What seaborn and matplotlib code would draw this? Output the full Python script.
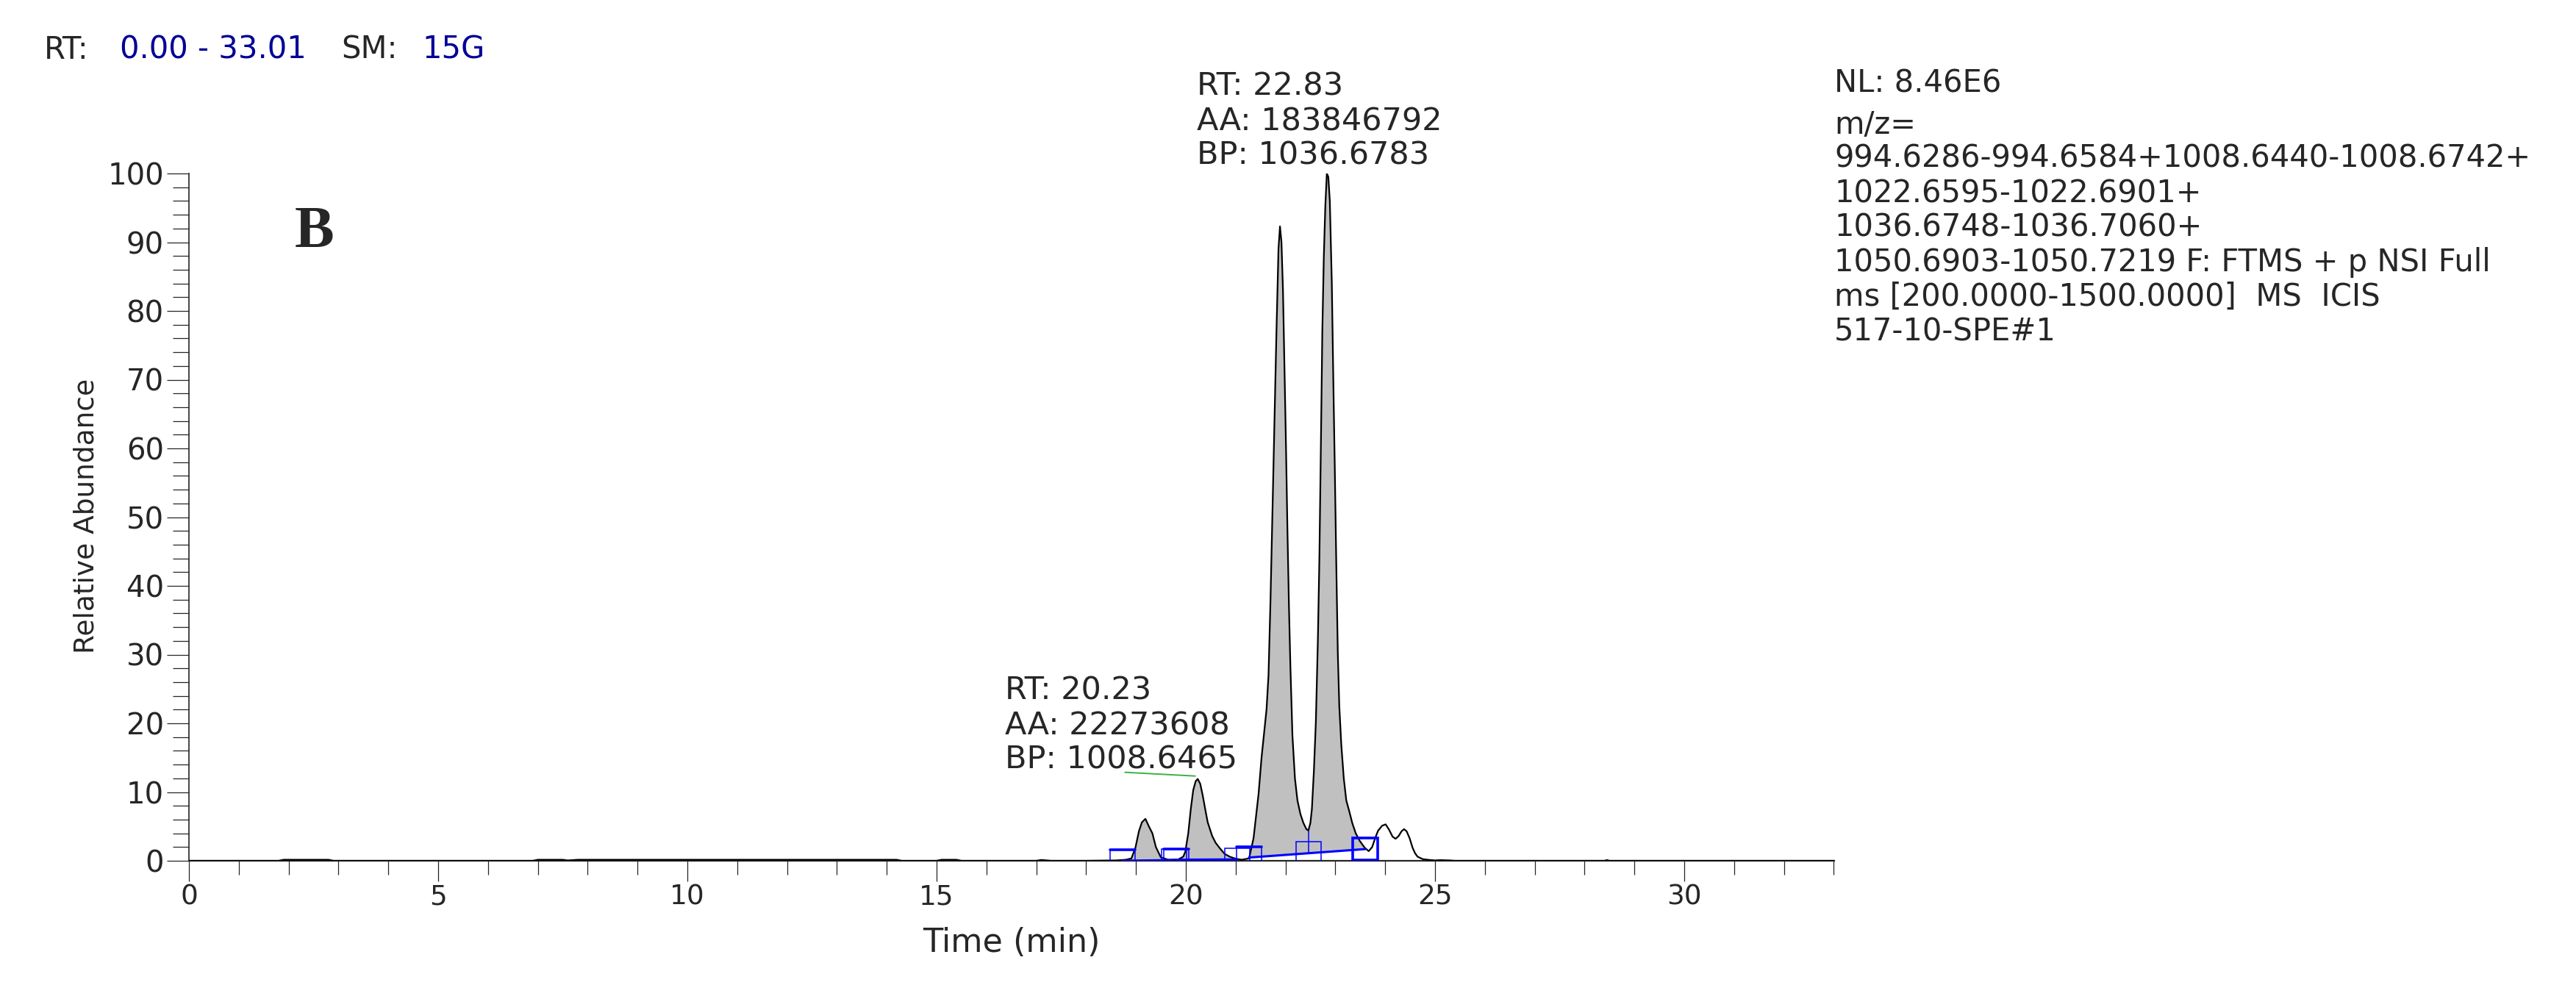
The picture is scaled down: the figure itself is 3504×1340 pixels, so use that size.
import numpy as np
import matplotlib
matplotlib.use("Agg")
import matplotlib.pyplot as plt
from matplotlib.patches import Rectangle
import seaborn as sns

# chromatogram trace: time (min) and relative abundance (%)
tempo = [0.00, 1.80, 1.90, 2.80, 2.90, 6.90, 7.00, 7.50, 7.60, 7.80, 14.20, 14.30,
         15.00, 15.10, 15.40, 15.50, 17.00, 17.10, 17.30, 18.00, 18.60, 18.80,
         18.91, 18.99, 19.06, 19.12, 19.19, 19.26, 19.33, 19.40, 19.50, 19.65,
         19.85, 19.95, 19.99, 20.05, 20.10, 20.15, 20.20, 20.24, 20.29, 20.34,
         20.39, 20.44, 20.53, 20.60, 20.68, 20.78, 20.88, 21.00, 21.12, 21.27,
         21.36, 21.46, 21.52, 21.57, 21.62, 21.66, 21.70, 21.74, 21.78, 21.82,
         21.86, 21.89, 21.92, 21.95, 21.98, 22.01, 22.04, 22.07, 22.10, 22.14,
         22.19, 22.24, 22.30, 22.36, 22.42, 22.46, 22.50, 22.53, 22.57, 22.61,
         22.65, 22.68, 22.71, 22.74, 22.77, 22.80, 22.83, 22.86, 22.89, 22.93,
         22.96, 22.99, 23.02, 23.05, 23.08, 23.12, 23.17, 23.22, 23.28, 23.34,
         23.41, 23.49, 23.59, 23.67, 23.74, 23.80, 23.86, 23.94, 24.01, 24.08,
         24.15, 24.21, 24.27, 24.33, 24.38, 24.43, 24.49, 24.55, 24.60, 24.65,
         24.75, 24.85, 25.00, 25.10, 25.30, 25.40, 28.40, 28.45, 28.50, 33.01]
abundancia = [0.0, 0.0, 0.15, 0.15, 0.0, 0.0, 0.15, 0.15, 0.05, 0.15, 0.15, 0.0,
              0.0, 0.15, 0.15, 0.0, 0.0, 0.12, 0.0, 0.0, 0.05, 0.15,
              0.35, 1.9, 4.3, 5.6, 6.1, 5.0, 4.0, 2.0, 0.5, 0.15,
              0.2, 0.6, 1.3, 4.0, 7.5, 10.3, 11.6, 11.9, 11.2, 9.5,
              7.5, 5.6, 3.6, 2.6, 1.85, 1.0, 0.6, 0.3, 0.15, 0.35,
              3.3, 9.7, 15.0, 18.5, 22.0, 27.0, 38.0, 51.0, 64.0, 77.2,
              89.0, 92.3, 90.0, 83.0, 72.0, 60.5, 48.0, 37.0, 28.0, 18.2,
              12.0, 8.8, 6.8, 5.5, 4.6, 4.4, 5.5, 7.5, 13.0, 20.2,
              32.0, 43.7, 60.0, 77.2, 88.0, 95.3, 100.0, 99.5, 96.0, 84.0,
              70.0, 57.0, 43.0, 30.3, 22.5, 16.9, 12.0, 8.8, 7.2, 5.5,
              4.0, 2.9, 1.9, 1.4, 2.0, 3.3, 4.4, 5.1, 5.3, 4.5,
              3.5, 3.2, 3.6, 4.3, 4.6, 4.3, 3.3, 1.9, 1.1, 0.6,
              0.25, 0.15, 0.05, 0.1, 0.05, 0.0, 0.0, 0.1, 0.0, 0.0]

# integrated peaks: baseline start / end points (min, %)
inicio_x = [18.73, 19.81, 21.27]
inicio_y = [0.00, 0.15, 0.47]
fim_x = [19.76, 21.03, 23.60]
fim_y = [0.10, 0.20, 1.70]
# drop line that splits the two big peaks
divisao_x = 22.47
divisao_y = [1.17, 4.4]

# labelled peaks
rotulo_alto = ["RT: 22.83", "AA: 183846792", "BP: 1036.6783"]
rotulo_baixo = ["RT: 20.23", "AA: 22273608", "BP: 1008.6465"]
# green leader line of the lower label
guia_x = [18.78, 20.19]
guia_y = [12.87, 12.33]

info_direita = ["NL: 8.46E6", "m/z=",
                "994.6286-994.6584+1008.6440-1008.6742+",
                "1022.6595-1022.6901+",
                "1036.6748-1036.7060+",
                "1050.6903-1050.7219 F: FTMS + p NSI Full",
                "ms [200.0000-1500.0000]  MS  ICIS",
                "517-10-SPE#1"]

W, H = 3504, 1340
sns.set_style("ticks")
plt.rcParams['font.family'] = ['DejaVu Sans']

fig = plt.figure(figsize=(W / 100, H / 100), dpi=100)
ax = fig.add_axes([257 / W, 1 - 1171 / H, (2495 - 257) / W, (1171 - 236) / H])

# gray area of each integrated peak, down to its own baseline
t = np.array(tempo)
a = np.array(abundancia)
for x0, y0, x1, y1 in zip(inicio_x, inicio_y, fim_x, fim_y):
    m = (t >= x0) & (t <= x1)
    base = np.interp(t[m], [x0, x1], [y0, y1])
    ax.fill_between(t[m], base, a[m], color="#c0c0c0", lw=0, zorder=1)

sns.lineplot(x=tempo, y=abundancia, ax=ax, color="black", linewidth=1.6,
             estimator=None, sort=False, zorder=3)

# baselines and peak start/end boxes
azul = "#0000ff"
for x0, y0, x1, y1 in zip(inicio_x, inicio_y, fim_x, fim_y):
    ax.plot([x0, x1], [y0, y1], color=azul, lw=2.2, zorder=4)
for cx, cy in zip(inicio_x, inicio_y):
    ax.add_patch(Rectangle((cx - 0.25, cy - 1.6), 0.5, 3.2, fill=False,
                           ec=azul, lw=1.1, zorder=4))
    ax.plot([cx - 0.25, cx + 0.25], [cy + 1.6, cy + 1.6], color=azul, lw=2.6, zorder=4)
for i, (cx, cy) in enumerate(zip(fim_x, fim_y)):
    lw = 2.6 if i == len(fim_x) - 1 else 1.1
    ax.add_patch(Rectangle((cx - 0.25, cy - 1.6), 0.5, 3.2, fill=False,
                           ec=azul, lw=lw, zorder=4))
ax.add_patch(Rectangle((divisao_x - 0.25, divisao_y[0] - 1.6), 0.5, 3.2, fill=False,
                       ec=azul, lw=1.1, zorder=4))
ax.plot([divisao_x, divisao_x], divisao_y, color=azul, lw=1.1, zorder=4)

ax.plot(guia_x, guia_y, color="#3cb043", lw=1.4, zorder=4)

# axes look of the instrument software
ax.set_xlim(0, 33.01)
ax.set_ylim(0, 100)
sns.despine(ax=ax)
ax.spines['left'].set_linewidth(1.2)
ax.spines['bottom'].set_linewidth(1.6)
ax.set_xticks(np.arange(0, 31, 5))
ax.set_xticks(np.arange(0, 34, 1), minor=True)
ax.set_yticks(np.arange(0, 101, 10))
ax.set_yticks(np.arange(0, 101, 2), minor=True)
ax.tick_params(axis='x', which='major', length=20.5, width=0.9, pad=2, labelsize=27)
ax.tick_params(axis='x', which='minor', length=14, width=0.9)
ax.tick_params(axis='y', which='major', length=21.6, width=0.9, pad=3, labelsize=29)
ax.tick_params(axis='y', which='minor', length=15.8, width=0.9)

ax.set_xlabel("Time (min)", fontsize=32)
ax.xaxis.set_label_coords(0.5, -0.096)
ax.set_ylabel("Relative Abundance", fontsize=27)
ax.yaxis.set_label_coords(-0.0545, 0.502)


def texto(x, y, s, **kw):
    fig.text(x / W, 1 - y / H, s, va='baseline', ha='left', **kw)


# header
texto(60, 80, "RT:", fontsize=30)
texto(163, 80, "0.00 - 33.01", fontsize=30, color="#000096")
texto(464, 80, "SM:", fontsize=30)
texto(574, 80, "15G", fontsize=30, color="#000096")

texto(401, 336, "B", fontsize=58, fontweight='bold', family='Liberation Serif')

for k, s in enumerate(rotulo_alto):
    texto(1628, 130 + 47 * k, s, fontsize=31)
for k, s in enumerate(rotulo_baixo):
    texto(1367, 952 + 47 * k, s, fontsize=31)

linhas_y = [126, 182, 228, 275, 322, 369, 416, 463]
for s, y in zip(info_direita, linhas_y):
    texto(2495, y, s, fontsize=30)

fig.savefig("out.png", dpi=100)
